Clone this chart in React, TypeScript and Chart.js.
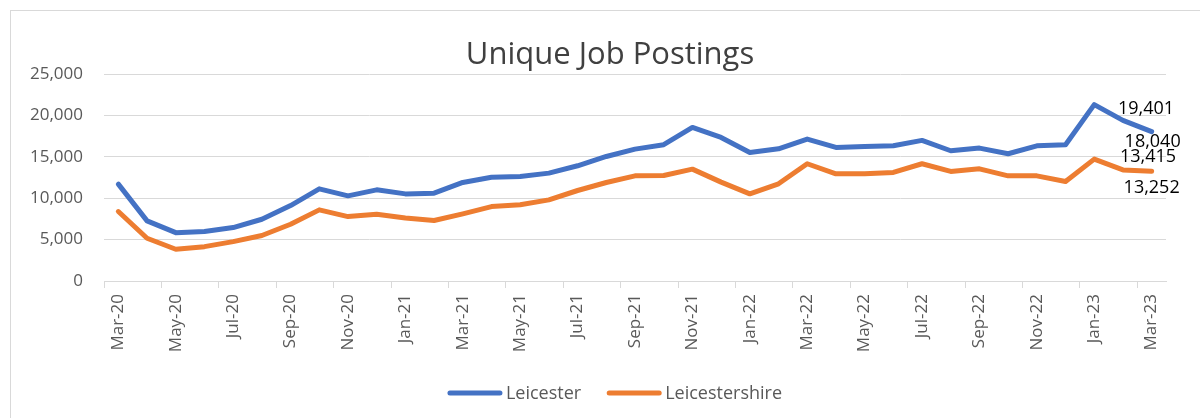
import React, { useEffect, useRef } from "react";
import { Chart, registerables } from "chart.js";

Chart.register(...registerables);

const months = [
  "Mar-20", "Apr-20", "May-20", "Jun-20", "Jul-20", "Aug-20", "Sep-20", "Oct-20", "Nov-20", "Dec-20",
  "Jan-21", "Feb-21", "Mar-21", "Apr-21", "May-21", "Jun-21", "Jul-21", "Aug-21", "Sep-21", "Oct-21", "Nov-21", "Dec-21",
  "Jan-22", "Feb-22", "Mar-22", "Apr-22", "May-22", "Jun-22", "Jul-22", "Aug-22", "Sep-22", "Oct-22", "Nov-22", "Dec-22",
  "Jan-23", "Feb-23", "Mar-23",
];

const leicester = [
  11700, 7260, 5840, 5970, 6450, 7460, 9110, 11130, 10285, 11010,
  10520, 10610, 11900, 12540, 12620, 13030, 13915, 15040, 15930, 16460, 18550, 17340,
  15530, 15970, 17140, 16130, 16250, 16330, 16980, 15730, 16050, 15370, 16330, 16460,
  21300, 19401, 18040,
];

const leicestershire = [
  8390, 5160, 3830, 4150, 4760, 5490, 6850, 8590, 7780, 8070,
  7620, 7300, 8110, 8990, 9200, 9800, 10930, 11900, 12700, 12745, 13510, 11940,
  10530, 11740, 14160, 12950, 12950, 13110, 14160, 13230, 13550, 12700, 12700, 12020,
  14720, 13415, 13252,
];

const seriesNames = ["Leicester", "Leicestershire"];
const seriesColors = ["#4472C4", "#ED7D31"];
const yTicks = [0, 5000, 10000, 15000, 20000, 25000];
const title = "Unique Job Postings";

const FONT = "'Open Sans', 'Noto Sans', sans-serif";

const fmt = (v: number) => v.toLocaleString("en-US");

const customPlugin = {
  id: "customDecor",
  afterDraw(chart: any) {
    const ctx = chart.ctx;
    ctx.save();
    // Title
    ctx.fillStyle = "#404040";
    ctx.font = `31px ${FONT}`;
    ctx.textAlign = "center";
    ctx.textBaseline = "alphabetic";
    ctx.fillText(title, 610, 64);

    // Data labels for last two points
    ctx.font = `18px ${FONT}`;
    ctx.fillStyle = "#000000";
    ctx.textBaseline = "middle";
    const offsets = [
      [ [23, -11], [1, 10] ],
      [ [25, -13], [0, 17] ],
    ];
    chart.data.datasets.forEach((ds: any, di: number) => {
      const meta = chart.getDatasetMeta(di);
      const n = ds.data.length;
      [n - 2, n - 1].forEach((idx, k) => {
        const pt = meta.data[idx];
        const [dx, dy] = offsets[di][k];
        ctx.fillText(fmt(ds.data[idx]), pt.x + dx, pt.y + dy);
      });
    });

    // Legend
    ctx.font = `18px ${FONT}`;
    ctx.textAlign = "left";
    ctx.textBaseline = "middle";
    const lineLen = 54;
    const gapText = 4;
    const gapItem = 26;
    const items = chart.data.datasets.map((ds: any) => ({
      label: ds.label,
      color: ds.borderColor,
      w: lineLen + gapText + ctx.measureText(ds.label).width,
    }));
    const total = items.reduce((s: number, it: any) => s + it.w, 0) + gapItem * (items.length - 1);
    let x = 615 - total / 2;
    const y = 393;
    items.forEach((it: any) => {
      ctx.strokeStyle = it.color;
      ctx.lineWidth = 5;
      ctx.lineCap = "round";
      ctx.beginPath();
      ctx.moveTo(x + 2, y);
      ctx.lineTo(x + lineLen - 2, y);
      ctx.stroke();
      ctx.fillStyle = "#595959";
      ctx.fillText(it.label, x + lineLen + gapText, y + 1);
      x += it.w + gapItem;
    });
    ctx.restore();
  },
};

export default function App() {
  const ref = useRef<HTMLCanvasElement | null>(null);

  useEffect(() => {
    if (!ref.current) return;
    const chart = new Chart(ref.current, {
      type: "line",
      data: {
        labels: months,
        datasets: [
          {
            label: seriesNames[0],
            data: leicester,
            borderColor: seriesColors[0],
            backgroundColor: seriesColors[0],
            borderWidth: 5,
            pointRadius: 0,
            tension: 0,
            borderJoinStyle: "round",
            borderCapStyle: "round",
          },
          {
            label: seriesNames[1],
            data: leicestershire,
            borderColor: seriesColors[1],
            backgroundColor: seriesColors[1],
            borderWidth: 5,
            pointRadius: 0,
            tension: 0,
            borderJoinStyle: "round",
            borderCapStyle: "round",
          },
        ],
      },
      options: {
        animation: false,
        responsive: false,
        devicePixelRatio: 1,
        layout: { padding: { left: 0, right: 34, top: 74, bottom: 0 } },
        plugins: {
          legend: { display: false },
          title: { display: false },
          tooltip: { enabled: false },
        },
        scales: {
          x: {
            type: "category",
            offset: true,
            afterFit: (s: any) => {
              s.height = 137;
            },
            grid: {
              offset: true,
              drawOnChartArea: false,
              drawTicks: true,
              tickLength: 7,
              color: (c: any) => (typeof c.index === "number" && c.index % 2 === 0 ? "#d9d9d9" : "rgba(0,0,0,0)"),
            },
            border: { display: true, color: "#d9d9d9", width: 1 },
            ticks: {
              autoSkip: false,
              minRotation: 90,
              maxRotation: 90,
              padding: 6,
              color: "#595959",
              font: { family: FONT, size: 17 },
              callback: (_v: any, i: number) => (i % 2 === 0 ? months[i] : ""),
            },
          },
          y: {
            min: yTicks[0],
            max: yTicks[yTicks.length - 1],
            afterFit: (s: any) => {
              s.width = 104;
            },
            afterBuildTicks: (s: any) => {
              s.ticks = yTicks.map((v) => ({ value: v }));
            },
            grid: { color: "#d9d9d9", lineWidth: 1, drawTicks: false },
            border: { display: false },
            ticks: {
              padding: 21,
              color: "#595959",
              font: { family: FONT, size: 17 },
              callback: (v: any) => fmt(Number(v)),
            },
          },
        },
      },
      plugins: [customPlugin],
    });
    return () => chart.destroy();
  }, []);

  return (
    <div style={{ position: "absolute", left: 0, top: 0, width: 1200, height: 418, overflow: "hidden", background: "#fff" }}>
      <div
        style={{
          position: "absolute",
          left: 10,
          top: 10,
          width: 1300,
          height: 500,
          border: "1px solid #d9d9d9",
          boxSizing: "border-box",
        }}
      />
      <canvas ref={ref} width={1200} height={418} style={{ position: "absolute", left: 0, top: 0, width: 1200, height: 418 }} />
    </div>
  );
}
